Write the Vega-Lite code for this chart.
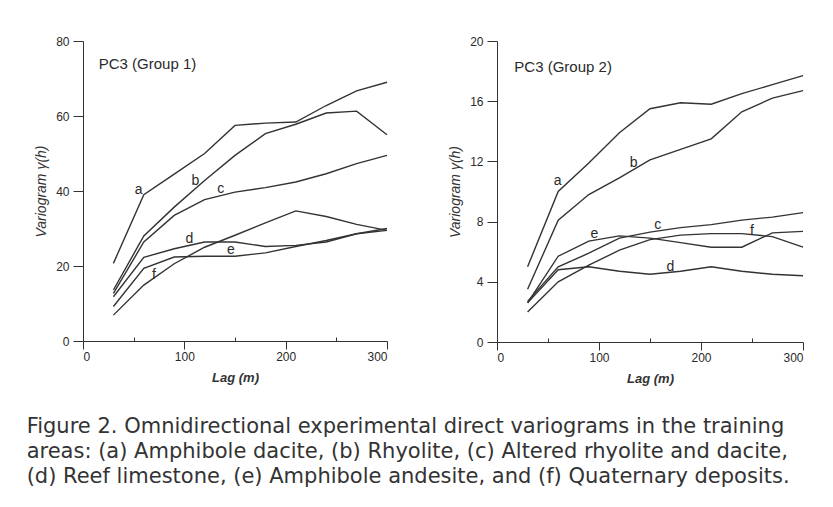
{
  "$schema": "https://vega.github.io/schema/vega-lite/v6.json",
  "background": "white",
  "padding": {"left": 26, "top": 35, "right": 10, "bottom": 10},
  "datasets": {
    "g1": [
      {"lag": 30, "v": 20.7, "s": "a"}, {"lag": 60, "v": 39, "s": "a"}, {"lag": 90, "v": 44.5, "s": "a"}, {"lag": 120, "v": 50, "s": "a"}, {"lag": 150, "v": 57.5, "s": "a"}, {"lag": 180, "v": 58.1, "s": "a"}, {"lag": 210, "v": 58.4, "s": "a"}, {"lag": 240, "v": 62.8, "s": "a"}, {"lag": 270, "v": 66.7, "s": "a"}, {"lag": 300, "v": 69, "s": "a"},
      {"lag": 30, "v": 13.6, "s": "b"}, {"lag": 60, "v": 28, "s": "b"}, {"lag": 90, "v": 35.7, "s": "b"}, {"lag": 120, "v": 42.8, "s": "b"}, {"lag": 150, "v": 49.5, "s": "b"}, {"lag": 180, "v": 55.3, "s": "b"}, {"lag": 210, "v": 57.8, "s": "b"}, {"lag": 240, "v": 60.8, "s": "b"}, {"lag": 270, "v": 61.3, "s": "b"}, {"lag": 300, "v": 55, "s": "b"},
      {"lag": 30, "v": 12.7, "s": "c"}, {"lag": 60, "v": 26.4, "s": "c"}, {"lag": 90, "v": 33.5, "s": "c"}, {"lag": 120, "v": 37.7, "s": "c"}, {"lag": 150, "v": 39.7, "s": "c"}, {"lag": 180, "v": 40.9, "s": "c"}, {"lag": 210, "v": 42.4, "s": "c"}, {"lag": 240, "v": 44.6, "s": "c"}, {"lag": 270, "v": 47.3, "s": "c"}, {"lag": 300, "v": 49.5, "s": "c"},
      {"lag": 30, "v": 11.8, "s": "d"}, {"lag": 60, "v": 22.3, "s": "d"}, {"lag": 90, "v": 24.6, "s": "d"}, {"lag": 120, "v": 26.4, "s": "d"}, {"lag": 150, "v": 26.4, "s": "d"}, {"lag": 180, "v": 25.2, "s": "d"}, {"lag": 210, "v": 25.5, "s": "d"}, {"lag": 240, "v": 26.4, "s": "d"}, {"lag": 270, "v": 28.6, "s": "d"}, {"lag": 300, "v": 29.5, "s": "d"},
      {"lag": 30, "v": 9.2, "s": "e"}, {"lag": 60, "v": 19.4, "s": "e"}, {"lag": 90, "v": 22.4, "s": "e"}, {"lag": 120, "v": 22.6, "s": "e"}, {"lag": 150, "v": 22.6, "s": "e"}, {"lag": 180, "v": 23.5, "s": "e"}, {"lag": 210, "v": 25.2, "s": "e"}, {"lag": 240, "v": 26.8, "s": "e"}, {"lag": 270, "v": 28.6, "s": "e"}, {"lag": 300, "v": 30, "s": "e"},
      {"lag": 30, "v": 6.9, "s": "f"}, {"lag": 60, "v": 14.9, "s": "f"}, {"lag": 90, "v": 20.6, "s": "f"}, {"lag": 120, "v": 25, "s": "f"}, {"lag": 150, "v": 28.2, "s": "f"}, {"lag": 180, "v": 31.5, "s": "f"}, {"lag": 210, "v": 34.7, "s": "f"}, {"lag": 240, "v": 33.2, "s": "f"}, {"lag": 270, "v": 31.1, "s": "f"}, {"lag": 300, "v": 29.5, "s": "f"}
    ],
    "g2": [
      {"lag": 30, "v": 5.0, "s": "a"}, {"lag": 60, "v": 10.0, "s": "a"}, {"lag": 90, "v": 11.9, "s": "a"}, {"lag": 120, "v": 13.9, "s": "a"}, {"lag": 150, "v": 15.5, "s": "a"}, {"lag": 180, "v": 15.9, "s": "a"}, {"lag": 210, "v": 15.8, "s": "a"}, {"lag": 240, "v": 16.5, "s": "a"}, {"lag": 270, "v": 17.1, "s": "a"}, {"lag": 300, "v": 17.7, "s": "a"},
      {"lag": 30, "v": 3.5, "s": "b"}, {"lag": 60, "v": 8.1, "s": "b"}, {"lag": 90, "v": 9.8, "s": "b"}, {"lag": 120, "v": 10.9, "s": "b"}, {"lag": 150, "v": 12.1, "s": "b"}, {"lag": 180, "v": 12.8, "s": "b"}, {"lag": 210, "v": 13.5, "s": "b"}, {"lag": 240, "v": 15.3, "s": "b"}, {"lag": 270, "v": 16.2, "s": "b"}, {"lag": 300, "v": 16.7, "s": "b"},
      {"lag": 30, "v": 2.7, "s": "c"}, {"lag": 60, "v": 5.0, "s": "c"}, {"lag": 90, "v": 5.9, "s": "c"}, {"lag": 120, "v": 6.9, "s": "c"}, {"lag": 150, "v": 7.3, "s": "c"}, {"lag": 180, "v": 7.6, "s": "c"}, {"lag": 210, "v": 7.8, "s": "c"}, {"lag": 240, "v": 8.1, "s": "c"}, {"lag": 270, "v": 8.3, "s": "c"}, {"lag": 300, "v": 8.6, "s": "c"},
      {"lag": 30, "v": 2.6, "s": "d"}, {"lag": 60, "v": 4.8, "s": "d"}, {"lag": 90, "v": 5.0, "s": "d"}, {"lag": 120, "v": 4.7, "s": "d"}, {"lag": 150, "v": 4.5, "s": "d"}, {"lag": 180, "v": 4.7, "s": "d"}, {"lag": 210, "v": 5.0, "s": "d"}, {"lag": 240, "v": 4.7, "s": "d"}, {"lag": 270, "v": 4.5, "s": "d"}, {"lag": 300, "v": 4.4, "s": "d"},
      {"lag": 30, "v": 2.6, "s": "e"}, {"lag": 60, "v": 5.7, "s": "e"}, {"lag": 90, "v": 6.7, "s": "e"}, {"lag": 120, "v": 7.05, "s": "e"}, {"lag": 150, "v": 6.9, "s": "e"}, {"lag": 180, "v": 6.6, "s": "e"}, {"lag": 210, "v": 6.3, "s": "e"}, {"lag": 240, "v": 6.3, "s": "e"}, {"lag": 270, "v": 7.25, "s": "e"}, {"lag": 300, "v": 7.35, "s": "e"},
      {"lag": 30, "v": 2.0, "s": "f"}, {"lag": 60, "v": 4.0, "s": "f"}, {"lag": 90, "v": 5.1, "s": "f"}, {"lag": 120, "v": 6.1, "s": "f"}, {"lag": 150, "v": 6.8, "s": "f"}, {"lag": 180, "v": 7.1, "s": "f"}, {"lag": 210, "v": 7.2, "s": "f"}, {"lag": 240, "v": 7.2, "s": "f"}, {"lag": 270, "v": 7.0, "s": "f"}, {"lag": 300, "v": 6.3, "s": "f"}
    ],
    "l1": [
      {"lag": 55, "v": 40.2, "t": "a"}, {"lag": 111, "v": 42.8, "t": "b"}, {"lag": 136, "v": 40.6, "t": "c"},
      {"lag": 105, "v": 27.3, "t": "d"}, {"lag": 146, "v": 24.2, "t": "e"}, {"lag": 70, "v": 17.5, "t": "f"}
    ],
    "l2": [
      {"lag": 59.5, "v": 10.7, "t": "a"}, {"lag": 134, "v": 11.9, "t": "b"}, {"lag": 157.5, "v": 7.8, "t": "c"},
      {"lag": 170, "v": 5.0, "t": "d"}, {"lag": 95.4, "v": 7.2, "t": "e"}, {"lag": 250, "v": 7.4, "t": "f"}
    ],
    "t1": [{"lag": 15.5, "v": 74, "t": "PC3 (Group 1)"}],
    "t2": [{"lag": 17, "v": 18.3, "t": "PC3 (Group 2)"}]
  },
  "title": {
    "text": [
      "Figure 2. Omnidirectional experimental direct variograms in the training",
      "areas: (a) Amphibole dacite, (b) Rhyolite, (c) Altered rhyolite and dacite,",
      "(d) Reef limestone, (e) Amphibole andesite, and (f) Quaternary deposits."
    ],
    "orient": "bottom",
    "anchor": "start",
    "frame": "bounds",
    "dx": -8,
    "offset": 31,
    "font": "DejaVu Sans",
    "fontSize": 21,
    "fontWeight": "normal",
    "lineHeight": 25,
    "color": "#333333"
  },
  "config": {
    "view": {"stroke": null},
    "axis": {
      "grid": false,
      "domainColor": "#333333",
      "tickColor": "#333333",
      "labelColor": "#2a2a2a",
      "labelFont": "Liberation Sans",
      "labelFontSize": 12,
      "titleFont": "Liberation Sans",
      "titleColor": "#333333",
      "titleFontStyle": "italic"
    },
    "line": {"color": "#333333", "strokeWidth": 1.4},
    "text": {"font": "Liberation Sans", "color": "#2a2a2a"}
  },
  "hconcat": [
    {
      "width": 304,
      "height": 300,
      "layer": [
        {
          "data": {"name": "g1"},
          "mark": {"type": "line"},
          "encoding": {
            "x": {"field": "lag", "type": "quantitative", "scale": {"domain": [0, 300]},
              "axis": {"values": [0, 50, 100, 150, 200, 250, 300], "labelExpr": "datum.value % 100 === 0 ? datum.label : ''",
                "tickSize": {"condition": {"test": "datum.value % 100 === 0", "value": 8}, "value": -4},
                "labelPadding": 2, "title": "Lag (m)", "titleFontWeight": "bold", "titleFontSize": 13, "titlePadding": 9}},
            "y": {"field": "v", "type": "quantitative", "scale": {"domain": [0, 80]},
              "axis": {"values": [0, 10, 20, 30, 40, 50, 60, 70, 80], "labelExpr": "datum.value % 20 === 0 ? datum.label : ''",
                "tickSize": {"condition": {"test": "datum.value % 20 === 0", "value": 10}, "value": 4},
                "labelPadding": 4, "title": "Variogram γ(h)", "titleFontWeight": "normal", "titleFontSize": 14, "titlePadding": 7}},
            "detail": {"field": "s"}
          }
        },
        {
          "data": {"name": "l1"},
          "mark": {"type": "text", "fontSize": 14, "color": "#2a2a2a"},
          "encoding": {
            "x": {"field": "lag", "type": "quantitative"},
            "y": {"field": "v", "type": "quantitative"},
            "text": {"field": "t"}
          }
        },
        {
          "data": {"name": "t1"},
          "mark": {"type": "text", "fontSize": 15, "align": "left", "color": "#2a2a2a"},
          "encoding": {
            "x": {"field": "lag", "type": "quantitative"},
            "y": {"field": "v", "type": "quantitative"},
            "text": {"field": "t"}
          }
        }
      ]
    },
    {
      "width": 306,
      "height": 301,
      "layer": [
        {
          "data": {"name": "g2"},
          "mark": {"type": "line"},
          "encoding": {
            "x": {"field": "lag", "type": "quantitative", "scale": {"domain": [0, 300]},
              "axis": {"values": [0, 50, 100, 150, 200, 250, 300], "labelExpr": "datum.value % 100 === 0 ? datum.label : ''",
                "tickSize": {"condition": {"test": "datum.value % 100 === 0", "value": 8}, "value": -4},
                "labelPadding": 2, "title": "Lag (m)", "titleFontWeight": "bold", "titleFontSize": 13, "titlePadding": 9}},
            "y": {"field": "v", "type": "quantitative", "scale": {"domain": [0, 20]},
              "axis": {"values": [0, 2, 4, 6, 8, 10, 12, 14, 16, 18, 20], "labelExpr": "datum.value % 4 === 0 ? datum.label : ''",
                "tickSize": {"condition": {"test": "datum.value % 4 === 0", "value": 10}, "value": 4},
                "labelPadding": 4, "title": "Variogram γ(h)", "titleFontWeight": "normal", "titleFontSize": 14, "titlePadding": 7}},
            "detail": {"field": "s"}
          }
        },
        {
          "data": {"name": "l2"},
          "mark": {"type": "text", "fontSize": 14, "color": "#2a2a2a"},
          "encoding": {
            "x": {"field": "lag", "type": "quantitative"},
            "y": {"field": "v", "type": "quantitative"},
            "text": {"field": "t"}
          }
        },
        {
          "data": {"name": "t2"},
          "mark": {"type": "text", "fontSize": 15, "align": "left", "color": "#2a2a2a"},
          "encoding": {
            "x": {"field": "lag", "type": "quantitative"},
            "y": {"field": "v", "type": "quantitative"},
            "text": {"field": "t"}
          }
        }
      ]
    }
  ],
  "spacing": 58
}
